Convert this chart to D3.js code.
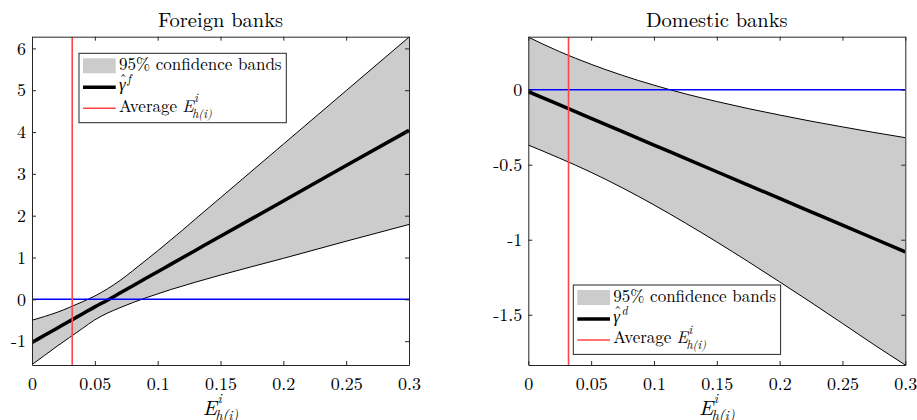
<!DOCTYPE html>
<html>
<head>
<meta charset="utf-8">
<script src="https://cdn.jsdelivr.net/npm/d3@7"></script>
<style>
  html, body { margin: 0; padding: 0; background: #fff; }
  svg { display: block; }
</style>
</head>
<body>
<svg id="chart" width="917" height="420"></svg>
<script>
// ---------- data ----------
const xForeign      = [0, 0.01, 0.02, 0.03, 0.04, 0.05, 0.06, 0.07, 0.08, 0.09, 0.10, 0.11, 0.12, 0.13, 0.15, 0.20, 0.25, 0.30];
const upperForeign  = [-0.50, -0.41, -0.31, -0.19, -0.06, 0.08, 0.25, 0.45, 0.68, 0.92, 1.16, 1.41, 1.66, 1.92, 2.43, 3.71, 4.99, 6.27];
const centerForeign = [-1.03, -0.86, -0.69, -0.52, -0.35, -0.18, -0.02, 0.15, 0.32, 0.49, 0.66, 0.83, 1.00, 1.17, 1.51, 2.35, 3.20, 4.04];
const lowerForeign  = [-1.56, -1.34, -1.12, -0.91, -0.70, -0.49, -0.33, -0.20, -0.08, 0.03, 0.13, 0.23, 0.32, 0.41, 0.58, 0.98, 1.39, 1.79];

const xDomestic      = [0, 0.025, 0.05, 0.075, 0.10, 0.125, 0.15, 0.175, 0.20, 0.225, 0.25, 0.275, 0.30];
const upperDomestic  = [0.350, 0.253, 0.169, 0.095, 0.030, -0.028, -0.079, -0.126, -0.169, -0.210, -0.248, -0.285, -0.320];
const centerDomestic = [-0.013, -0.102, -0.191, -0.280, -0.369, -0.458, -0.547, -0.636, -0.725, -0.814, -0.903, -0.992, -1.081];
const lowerDomestic  = [-0.369, -0.457, -0.551, -0.655, -0.768, -0.889, -1.015, -1.146, -1.281, -1.418, -1.558, -1.699, -1.835];

const averageE = 0.032;
const xTicks = [0, 0.05, 0.1, 0.15, 0.2, 0.25, 0.3];
const xTickLabels = ["0", "0.05", "0.1", "0.15", "0.2", "0.25", "0.3"];
const yTicksForeign = [-1, 0, 1, 2, 3, 4, 5, 6];
const yTickLabelsForeign = ["-1", "0", "1", "2", "3", "4", "5", "6"];
const yTicksDomestic = [-1.5, -1, -0.5, 0];
const yTickLabelsDomestic = ["-1.5", "-1", "-0.5", "0"];
const titles = ["Foreign banks", "Domestic banks"];
const legendBand = "95% confidence bands";
const legendSup = ["f", "d"];

// ---------- drawing ----------
const svg = d3.select("#chart");
const AX = "#262626";
const FONT = "'Latin Modern Roman', 'Liberation Serif', serif";
const FS = 18;
const txt = (sel, size, italic) => sel.style("font-family", FONT).style("font-size", size + "px")
  .style("font-style", italic ? "italic" : "normal").style("fill", "#000");

// E^i_{h(i)} as one text element
function eLabel(parent, x, y, baseSize, scriptSize, supDy, subDy, prefix, anchorMid) {
  const t = txt(parent.append("text").attr("x", x).attr("y", y), baseSize, false);
  if (prefix) txt(t.append("tspan").text(prefix), baseSize, false);
  const e = txt(t.append("tspan").text("E"), baseSize, true);
  if (prefix) e.attr("dx", 5);
  const s = txt(t.append("tspan").attr("dx", 0.5).attr("dy", supDy).text("i"), scriptSize, true);
  const sW = s.node().getComputedTextLength();
  const b = txt(t.append("tspan").attr("dx", -(sW + 2)).attr("dy", subDy - supDy).text("h(i)"), scriptSize, true);
  if (anchorMid) {
    const eW = e.node().getComputedTextLength();
    const bW = b.node().getComputedTextLength();
    t.attr("x", x - (eW + bW - 1.5) / 2);
  }
  return t;
}

const panels = [
  { id: "f", x0: 32, x1: 409, y0: 36.7, y1: 365, ydom: [-1.57, 6.28],
    xs: xForeign, up: upperForeign, c: centerForeign, lo: lowerForeign,
    yt: yTicksForeign, ytl: yTickLabelsForeign, title: titles[0], sup: legendSup[0],
    leg: [79, 53.3] },
  { id: "d", x0: 528.3, x1: 905.3, y0: 36.7, y1: 365, ydom: [-1.835, 0.353],
    xs: xDomestic, up: upperDomestic, c: centerDomestic, lo: lowerDomestic,
    yt: yTicksDomestic, ytl: yTickLabelsDomestic, title: titles[1], sup: legendSup[1],
    leg: [573.3, 285] }
];

panels.forEach(p => {
  const x = d3.scaleLinear().domain([0, 0.3]).range([p.x0, p.x1]);
  const y = d3.scaleLinear().domain(p.ydom).range([p.y1, p.y0]);
  const pts = p.xs.map((v, i) => ({ x: v, up: p.up[i], c: p.c[i], lo: p.lo[i] }));

  svg.append("clipPath").attr("id", "clip-" + p.id)
    .append("rect").attr("x", p.x0).attr("y", p.y0)
    .attr("width", p.x1 - p.x0).attr("height", p.y1 - p.y0);

  const g = svg.append("g").attr("clip-path", `url(#clip-${p.id})`);
  const curve = d3.curveMonotoneX;

  g.append("path").datum(pts)
    .attr("d", d3.area().curve(curve).x(d => x(d.x)).y0(d => y(d.lo)).y1(d => y(d.up)))
    .attr("fill", "#cccccc");
  g.append("path").datum(pts)
    .attr("d", d3.line().curve(curve).x(d => x(d.x)).y(d => y(d.up)))
    .attr("fill", "none").attr("stroke", "#000").attr("stroke-width", 1);
  g.append("path").datum(pts)
    .attr("d", d3.line().curve(curve).x(d => x(d.x)).y(d => y(d.lo)))
    .attr("fill", "none").attr("stroke", "#000").attr("stroke-width", 1);
  g.append("path").datum(pts)
    .attr("d", d3.line().curve(curve).x(d => x(d.x)).y(d => y(d.c)))
    .attr("fill", "none").attr("stroke", "#000").attr("stroke-width", 3.5);
  g.append("line").attr("x1", p.x0).attr("x2", p.x1)
    .attr("y1", y(0)).attr("y2", y(0))
    .attr("stroke", "#0000ff").attr("stroke-width", 1.5);
  g.append("line").attr("x1", x(averageE)).attr("x2", x(averageE))
    .attr("y1", p.y0).attr("y2", p.y1)
    .attr("stroke", "#ff4545").attr("stroke-width", 1.6);

  const styleAxis = sel => {
    sel.selectAll(".domain").attr("stroke", AX).attr("stroke-width", 1);
    sel.selectAll(".tick line").attr("stroke", AX).attr("stroke-width", 1);
    txt(sel.selectAll(".tick text"), FS, false);
  };
  svg.append("g").attr("transform", `translate(0,${p.y1})`)
    .call(d3.axisBottom(x).tickValues(xTicks).tickFormat((d, i) => xTickLabels[i])
      .tickSizeInner(-4).tickSizeOuter(0).tickPadding(12))
    .call(styleAxis);
  svg.append("g").attr("transform", `translate(0,${p.y0})`)
    .call(d3.axisTop(x).tickValues(xTicks).tickFormat("")
      .tickSizeInner(-4).tickSizeOuter(0))
    .call(styleAxis);
  svg.append("g").attr("transform", `translate(${p.x0},0)`)
    .call(d3.axisLeft(y).tickValues(p.yt).tickFormat((d, i) => p.ytl[i])
      .tickSizeInner(-4).tickSizeOuter(0).tickPadding(6))
    .call(styleAxis);
  svg.append("g").attr("transform", `translate(${p.x1},0)`)
    .call(d3.axisRight(y).tickValues(p.yt).tickFormat("")
      .tickSizeInner(-4).tickSizeOuter(0))
    .call(styleAxis);

  // title
  txt(svg.append("text").attr("x", (p.x0 + p.x1) / 2).attr("y", 27)
    .attr("text-anchor", "middle").text(p.title), 20.5, false);

  // x-axis label
  eLabel(svg, (p.x0 + p.x1) / 2, 415, 21, 14, -12, 5, null, true);

  // legend
  const [lx, ly] = p.leg;
  const lg = svg.append("g");
  lg.append("rect").attr("x", lx).attr("y", ly).attr("width", 207.3).attr("height", 69.4)
    .attr("fill", "#fff").attr("stroke", AX).attr("stroke-width", 1);
  lg.append("rect").attr("x", lx + 4).attr("y", ly + 5).attr("width", 32.7).attr("height", 15)
    .attr("fill", "#cccccc");
  txt(lg.append("text").attr("x", lx + 40).attr("y", ly + 17).text(legendBand), 17, false);
  lg.append("line").attr("x1", lx + 4).attr("x2", lx + 36.7).attr("y1", ly + 34).attr("y2", ly + 34)
    .attr("stroke", "#000").attr("stroke-width", 3.5);
  // \hat{\gamma}^f as one text element
  const gt = txt(lg.append("text").attr("x", lx + 40).attr("y", ly + 37), 17, false);
  const gam = txt(gt.append("tspan").text("γ"), 17, true);
  const gW = gam.node().getComputedTextLength();
  const hat = txt(gt.append("tspan").text("ˆ"), 15, false);
  const hW = hat.node().getComputedTextLength();
  hat.attr("dx", -(gW + hW) / 2 + 1).attr("dy", -5.5);
  txt(gt.append("tspan").attr("dx", gW / 2 + 0.5 - hW / 2).attr("dy", -2).text(p.sup), 12, true);

  lg.append("line").attr("x1", lx + 4).attr("x2", lx + 36.7).attr("y1", ly + 55).attr("y2", ly + 55)
    .attr("stroke", "#ff4545").attr("stroke-width", 1.4);
  eLabel(lg, lx + 40, ly + 58.4, 17, 12, -9.4, 6, "Average", false);
});
</script>
</body>
</html>
